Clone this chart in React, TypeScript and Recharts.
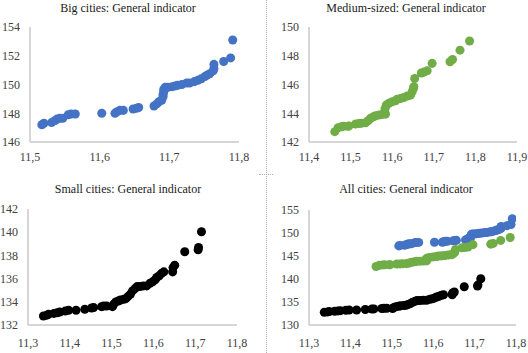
import { ScatterChart, Scatter, XAxis, YAxis, ZAxis } from "recharts";

// [x, y] pairs
const bigCities: [number, number][] = [
  [11.517, 147.2], [11.52, 147.3], [11.531, 147.35], [11.536, 147.5], [11.539, 147.6],
  [11.543, 147.65], [11.547, 147.65], [11.555, 147.9], [11.559, 147.95], [11.565, 147.95],
  [11.603, 148.0], [11.622, 148.0], [11.625, 148.1], [11.629, 148.2], [11.634, 148.2],
  [11.648, 148.3], [11.653, 148.35], [11.656, 148.4], [11.678, 148.5], [11.682, 148.65],
  [11.685, 148.8], [11.689, 148.9], [11.691, 149.15], [11.691, 149.3], [11.692, 149.5],
  [11.692, 149.65], [11.694, 149.8], [11.698, 149.8], [11.704, 149.85], [11.708, 149.9],
  [11.712, 149.95], [11.718, 150.0], [11.725, 150.1], [11.729, 150.1], [11.736, 150.2],
  [11.741, 150.3], [11.746, 150.4], [11.751, 150.55], [11.754, 150.65], [11.758, 150.75],
  [11.763, 150.95], [11.764, 151.1], [11.764, 151.4], [11.778, 151.6], [11.788, 151.85],
  [11.791, 153.1],
];

const mediumCities: [number, number][] = [
  [11.462, 142.72], [11.47, 142.99], [11.478, 143.06], [11.483, 143.1], [11.494, 143.1],
  [11.496, 143.12], [11.512, 143.25], [11.52, 143.28], [11.526, 143.3], [11.536, 143.34],
  [11.542, 143.48], [11.548, 143.65], [11.555, 143.76], [11.56, 143.83], [11.568, 143.88],
  [11.576, 143.92], [11.584, 143.94], [11.582, 144.1], [11.583, 144.34], [11.586, 144.57],
  [11.592, 144.69], [11.6, 144.8], [11.608, 144.87], [11.612, 144.97], [11.62, 145.03],
  [11.628, 145.1], [11.636, 145.2], [11.644, 145.26], [11.648, 145.5], [11.651, 145.73],
  [11.652, 145.84], [11.654, 146.42], [11.67, 146.8], [11.676, 146.86], [11.684, 146.95],
  [11.696, 147.47], [11.739, 147.58], [11.745, 147.74], [11.763, 148.39], [11.786, 149.03],
];

const smallCities: [number, number][] = [
  [11.337, 132.78], [11.345, 132.85], [11.349, 132.92], [11.362, 133.0], [11.37, 133.06],
  [11.376, 133.12], [11.389, 133.2], [11.397, 133.27], [11.415, 133.27], [11.436, 133.36],
  [11.452, 133.47], [11.457, 133.5], [11.476, 133.58], [11.481, 133.64], [11.488, 133.64],
  [11.502, 133.58], [11.505, 133.79], [11.51, 133.99], [11.516, 134.07], [11.521, 134.16],
  [11.529, 134.22], [11.534, 134.27], [11.539, 134.45], [11.545, 134.65], [11.55, 134.94],
  [11.556, 135.14], [11.561, 135.31], [11.568, 135.31], [11.576, 135.37], [11.584, 135.37],
  [11.592, 135.6], [11.598, 135.72], [11.604, 135.89], [11.608, 136.09], [11.614, 136.24],
  [11.62, 136.47], [11.625, 136.58], [11.646, 136.58], [11.647, 136.95], [11.651, 137.16],
  [11.675, 138.31], [11.707, 138.48], [11.708, 138.68], [11.715, 140.04],
];

const BLUE = "#4472C4";
const GREEN = "#70AD47";
const BLACK = "#000000";

const bigXTicks = [11.5, 11.6, 11.7, 11.8];
const bigYTicks = [146, 148, 150, 152, 154];
const mediumXTicks = [11.4, 11.5, 11.6, 11.7, 11.8, 11.9];
const mediumYTicks = [142, 144, 146, 148, 150];
const smallXTicks = [11.3, 11.4, 11.5, 11.6, 11.7, 11.8];
const smallYTicks = [132, 134, 136, 138, 140, 142];
const allXTicks = [11.3, 11.4, 11.5, 11.6, 11.7, 11.8];
const allYTicks = [130, 135, 140, 145, 150, 155];

const FONT = '"Liberation Serif", "Times New Roman", serif';
const AXIS = "#c9c9c9";
const TICK = { fill: "#404040", fontSize: 12, fontFamily: FONT };

const toPoints = (arr: [number, number][]) => arr.map(([x, y]) => ({ x, y }));
const comma = (v: number) => v.toFixed(1).replace(".", ",");

interface PanelProps {
  left: number;
  top: number;
  title: string;
  titleX: number;
  titleY: number;
  xTicks: number[];
  yTicks: number[];
  yWidth: number;
  margin: { top: number; right: number; bottom: number; left: number };
  xTickMargin: number;
  series: { data: [number, number][]; color: string }[];
}

function Panel({ left, top, title, titleX, titleY, xTicks, yTicks, yWidth, margin, xTickMargin, series }: PanelProps) {
  return (
    <div style={{ position: "absolute", left, top, width: 264, height: 176 }}>
      <div
        style={{
          position: "absolute",
          left: titleX,
          top: titleY,
          transform: "translateX(-50%)",
          whiteSpace: "nowrap",
          fontFamily: FONT,
          fontSize: 12,
          lineHeight: "12px",
          color: "#1a1a1a",
        }}
      >
        {title}
      </div>
      <ScatterChart width={264} height={176} margin={margin}>
        <XAxis
          type="number"
          dataKey="x"
          domain={[xTicks[0], xTicks[xTicks.length - 1]]}
          ticks={xTicks}
          tickFormatter={comma}
          tick={TICK}
          tickLine={false}
          tickMargin={xTickMargin}
          axisLine={{ stroke: AXIS, strokeWidth: 1.5 }}
          height={24}
          allowDataOverflow
        />
        <YAxis
          type="number"
          dataKey="y"
          domain={[yTicks[0], yTicks[yTicks.length - 1]]}
          ticks={yTicks}
          tick={TICK}
          tickLine={false}
          tickMargin={4}
          axisLine={{ stroke: AXIS, strokeWidth: 1.5 }}
          width={yWidth}
          allowDataOverflow
        />
        <ZAxis range={[42, 42]} />
        {series.map((s, i) => (
          <Scatter key={i} data={toPoints(s.data)} fill={s.color} isAnimationActive={false} />
        ))}
      </ScatterChart>
    </div>
  );
}

export default function App() {
  return (
    <div style={{ position: "absolute", left: 0, top: 0, width: 528, height: 353, background: "#fff", overflow: "hidden" }}>
      <Panel
        left={0}
        top={0}
        title="Big cities: General indicator"
        titleX={128}
        titleY={2}
        xTicks={bigXTicks}
        yTicks={bigYTicks}
        yWidth={30}
        margin={{ top: 27, right: 25, bottom: 10, left: 0 }}
        xTickMargin={4}
        series={[{ data: bigCities, color: BLUE }]}
      />
      <Panel
        left={264}
        top={0}
        title="Medium-sized: General indicator"
        titleX={142}
        titleY={2}
        xTicks={mediumXTicks}
        yTicks={mediumYTicks}
        yWidth={45}
        margin={{ top: 27, right: 11, bottom: 10, left: 0 }}
        xTickMargin={4}
        series={[{ data: mediumCities, color: GREEN }]}
      />
      <Panel
        left={0}
        top={176}
        title="Small cities: General indicator"
        titleX={128}
        titleY={7}
        xTicks={smallXTicks}
        yTicks={smallYTicks}
        yWidth={28}
        margin={{ top: 33, right: 27, bottom: 3, left: 0 }}
        xTickMargin={7}
        series={[{ data: smallCities, color: BLACK }]}
      />
      <Panel
        left={264}
        top={176}
        title="All cities: General indicator"
        titleX={142}
        titleY={7}
        xTicks={allXTicks}
        yTicks={allYTicks}
        yWidth={45}
        margin={{ top: 34, right: 12, bottom: 3, left: 0 }}
        xTickMargin={7}
        series={[
          { data: bigCities, color: BLUE },
          { data: mediumCities, color: GREEN },
          { data: smallCities, color: BLACK },
        ]}
      />
      <div style={{ position: "absolute", left: 266, top: 0, height: 353, borderLeft: "1px dotted #b0b0b0" }} />
      <div style={{ position: "absolute", left: 259, top: 174, width: 14, borderTop: "1px dotted #b0b0b0" }} />
    </div>
  );
}
